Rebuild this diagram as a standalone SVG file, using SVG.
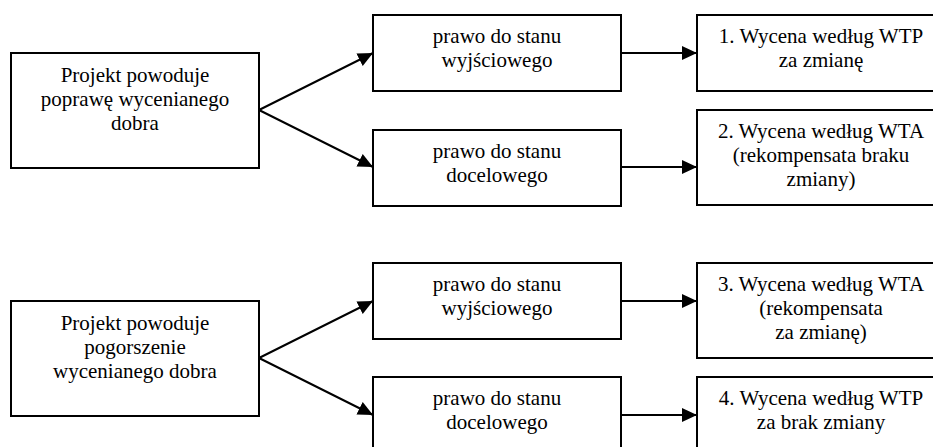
<svg xmlns="http://www.w3.org/2000/svg" width="933" height="447" viewBox="0 0 933 447">
  <style>
    .box { fill: #ffffff; stroke: #000000; stroke-width: 2; }
    .lbl { font-family: 'Liberation Serif', Tinos, 'Times New Roman', 'DejaVu Serif', serif; font-size: 21px; fill: #000000; text-anchor: middle; }
    .conn { stroke: #000000; stroke-width: 2; fill: none; marker-end: url(#head); }
  </style>
  <defs>
    <marker id="head" markerUnits="userSpaceOnUse" markerWidth="16" markerHeight="14" refX="15" refY="7" orient="auto">
      <path d="M0,0 L15,7 L0,14 Z" fill="#000000"/>
    </marker>
  </defs>

  <rect width="933" height="447" fill="#ffffff"/>

  <!-- upper case: improvement -->
  <g id="improvement">
    <rect class="box" x="11" y="53" width="248" height="115"/>
    <text class="lbl" x="135" y="82">Projekt powoduje</text>
    <text class="lbl" x="135" y="106">poprawę wycenianego</text>
    <text class="lbl" x="135" y="130">dobra</text>
  </g>
  <g id="imp-initial-right">
    <rect class="box" x="373" y="15" width="248" height="76"/>
    <text class="lbl" x="497" y="43">prawo do stanu</text>
    <text class="lbl" x="497" y="67">wyjściowego</text>
  </g>
  <g id="imp-target-right">
    <rect class="box" x="373" y="130" width="248" height="76"/>
    <text class="lbl" x="497" y="158">prawo do stanu</text>
    <text class="lbl" x="497" y="182">docelowego</text>
  </g>
  <g id="valuation-1">
    <rect class="box" x="697" y="15" width="248" height="76"/>
    <text class="lbl" x="821" y="43">1. Wycena według WTP</text>
    <text class="lbl" x="821" y="67">za zmianę</text>
  </g>
  <g id="valuation-2">
    <rect class="box" x="697" y="110" width="248" height="95"/>
    <text class="lbl" x="821" y="138">2. Wycena według WTA</text>
    <text class="lbl" x="821" y="162">(rekompensata braku</text>
    <text class="lbl" x="821" y="186">zmiany)</text>
  </g>

  <!-- lower case: deterioration -->
  <g id="deterioration">
    <rect class="box" x="11" y="301" width="248" height="115"/>
    <text class="lbl" x="135" y="330">Projekt powoduje</text>
    <text class="lbl" x="135" y="354">pogorszenie</text>
    <text class="lbl" x="135" y="378">wycenianego dobra</text>
  </g>
  <g id="det-initial-right">
    <rect class="box" x="373" y="263" width="248" height="76"/>
    <text class="lbl" x="497" y="291">prawo do stanu</text>
    <text class="lbl" x="497" y="315">wyjściowego</text>
  </g>
  <g id="det-target-right">
    <rect class="box" x="373" y="377" width="248" height="100"/>
    <text class="lbl" x="497" y="405">prawo do stanu</text>
    <text class="lbl" x="497" y="429">docelowego</text>
  </g>
  <g id="valuation-3">
    <rect class="box" x="697" y="263" width="248" height="95"/>
    <text class="lbl" x="821" y="291">3. Wycena według WTA</text>
    <text class="lbl" x="821" y="315">(rekompensata</text>
    <text class="lbl" x="821" y="339">za zmianę)</text>
  </g>
  <g id="valuation-4">
    <rect class="box" x="697" y="377" width="248" height="100"/>
    <text class="lbl" x="821" y="405">4. Wycena według WTP</text>
    <text class="lbl" x="821" y="429">za brak zmiany</text>
  </g>

  <g id="connectors">
    <line class="conn" x1="259" y1="110" x2="373" y2="53"/>
    <line class="conn" x1="259" y1="110" x2="373" y2="167"/>
    <line class="conn" x1="621" y1="53" x2="697" y2="53"/>
    <line class="conn" x1="621" y1="167" x2="697" y2="167"/>
    <line class="conn" x1="259" y1="358" x2="373" y2="301"/>
    <line class="conn" x1="259" y1="358" x2="373" y2="415"/>
    <line class="conn" x1="621" y1="301" x2="697" y2="301"/>
    <line class="conn" x1="621" y1="415" x2="697" y2="415"/>
  </g>
</svg>
